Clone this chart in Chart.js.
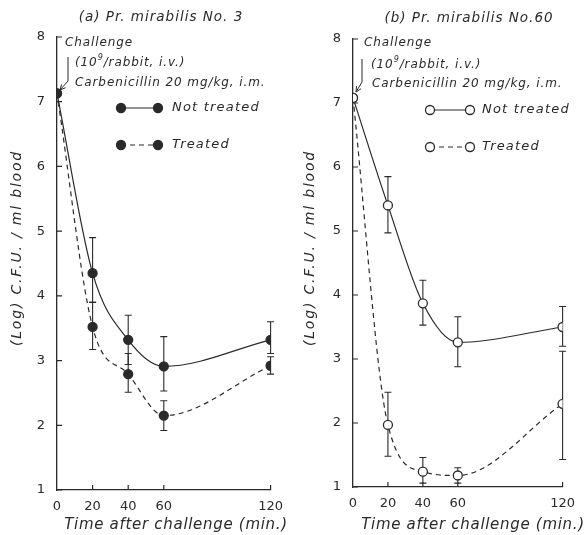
<!DOCTYPE html>
<html>
<head>
<meta charset="utf-8">
<script src="https://cdn.jsdelivr.net/npm/chart.js@4.4.1/dist/chart.umd.min.js"></script>
<style>
html, body { margin: 0; padding: 0; background: #fff; }
#wrap { position: relative; width: 584px; height: 535px; }
.panel { position: absolute; top: 0; width: 292px; height: 535px; }
</style>
</head>
<body>
<div id="wrap">
    <div class="panel" style="left:0"><canvas id="chart-a"></canvas></div>
    <div class="panel" style="left:292px"><canvas id="chart-b"></canvas></div>
</div>
<script>
const timePoints = [0, 20, 40, 60, 120];
const xTicks = [0, 20, 40, 60, 120];
const yTicks = [1, 2, 3, 4, 5, 6, 7, 8];

// (a) Pr. mirabilis No. 3
const aNotTreated     = [7.13, 4.35, 3.32, 2.91, 3.32];
const aNotTreatedLow  = [null, 3.90, 2.94, 2.53, 3.11];
const aNotTreatedHigh = [null, 4.90, 3.70, 3.37, 3.60];
const aTreated        = [7.13, 3.52, 2.79, 2.15, 2.92];
const aTreatedLow     = [null, 3.17, 2.51, 1.92, 2.79];
const aTreatedHigh    = [null, 3.90, 3.11, 2.38, 3.06];

// (b) Pr. mirabilis No. 60
const bNotTreated     = [7.08, 5.40, 3.87, 3.26, 3.50];
const bNotTreatedLow  = [null, 4.97, 3.53, 2.88, 3.20];
const bNotTreatedHigh = [null, 5.85, 4.23, 3.66, 3.82];
const bTreated        = [7.08, 1.97, 1.24, 1.18, 2.30];
const bTreatedLow     = [null, 1.48, 1.06, 1.06, 1.43];
const bTreatedHigh    = [null, 2.48, 1.46, 1.30, 3.12];

const ink = "#2a2a2a";
const textFont = "'DejaVu Sans', sans-serif";

function toXY(values) {
    return timePoints.map((t, i) => ({ x: t, y: values[i] }));
}

function drawMarker(ctx, x, y, filled) {
    ctx.beginPath();
    ctx.arc(x, y, 4.5, 0, Math.PI * 2);
    ctx.fillStyle = filled ? ink : "#fff";
    ctx.fill();
    ctx.lineWidth = 1.3;
    ctx.strokeStyle = ink;
    ctx.stroke();
}

// error bars, inward ticks, titles, annotation and legend
const paperPlugin = {
    id: "paper",
    beforeDatasetsDraw(chart, args, opts) {
        const { ctx, scales: { x, y } } = chart;
        ctx.save();
        ctx.strokeStyle = ink;
        ctx.lineWidth = 1.1;
        opts.errors.forEach(e => {
            timePoints.forEach((t, i) => {
                if (e.low[i] == null) return;
                const px = x.getPixelForValue(t);
                const y1 = y.getPixelForValue(e.low[i]);
                const y2 = y.getPixelForValue(e.high[i]);
                ctx.beginPath();
                ctx.moveTo(px, y1); ctx.lineTo(px, y2);
                ctx.moveTo(px - 3.5, y1); ctx.lineTo(px + 3.5, y1);
                ctx.moveTo(px - 3.5, y2); ctx.lineTo(px + 3.5, y2);
                ctx.stroke();
            });
        });
        ctx.restore();
    },
    afterDraw(chart, args, opts) {
        const { ctx, chartArea: area, scales: { x, y } } = chart;
        ctx.save();
        ctx.strokeStyle = ink;
        ctx.lineWidth = 1.2;
        // ticks pointing inward
        ctx.beginPath();
        yTicks.forEach(v => {
            const py = y.getPixelForValue(v);
            ctx.moveTo(area.left, py); ctx.lineTo(area.left + 5, py);
        });
        xTicks.slice(1).forEach(v => {
            const px = x.getPixelForValue(v);
            ctx.moveTo(px, area.bottom); ctx.lineTo(px, area.bottom - 5);
        });
        ctx.stroke();

        // titles
        const t = opts.titles;
        ctx.fillStyle = ink;
        ctx.textBaseline = "middle";
        ctx.textAlign = "center";
        ctx.font = "italic 13.5px " + textFont;
        ctx.letterSpacing = "1px";
        ctx.fillText(t.main, t.mainX, t.mainY);
        ctx.font = "italic 15px " + textFont;
        ctx.letterSpacing = "0.7px";
        ctx.fillText("Time after challenge (min.)", t.xTitleX, t.xTitleY);
        ctx.save();
        ctx.translate(t.yTitleX, t.yTitleY);
        ctx.rotate(-Math.PI / 2);
        ctx.font = "italic 14px " + textFont;
        ctx.letterSpacing = "1.8px";
        ctx.fillText("(Log) C.F.U. / ml blood", 0, 0);
        ctx.restore();
        ctx.textAlign = "left";

        // annotation
        const n = opts.note;
        ctx.font = "italic 12px " + textFont;
        ctx.letterSpacing = "0.9px";
        ctx.fillText("Challenge", n.x1, n.y1);
        let tx = n.x2;
        ctx.fillText("(10", tx, n.y2);
        tx += ctx.measureText("(10").width;
        ctx.font = "italic 8px " + textFont;
        ctx.fillText("9", tx, n.y2 - 5);
        tx += ctx.measureText("9").width;
        ctx.font = "italic 12px " + textFont;
        ctx.fillText("/rabbit, i.v.)", tx, n.y2);
        ctx.fillText("Carbenicillin 20 mg/kg, i.m.", n.x3, n.y3);

        ctx.lineWidth = 1;
        ctx.beginPath();
        ctx.moveTo(n.ax, n.ay0);
        ctx.lineTo(n.ax, n.ay1);
        ctx.lineTo(n.tipX, n.tipY);
        const ang = Math.atan2(n.tipY - n.ay1, n.tipX - n.ax);
        ctx.moveTo(n.tipX, n.tipY);
        ctx.lineTo(n.tipX - 6 * Math.cos(ang - 0.45), n.tipY - 6 * Math.sin(ang - 0.45));
        ctx.moveTo(n.tipX, n.tipY);
        ctx.lineTo(n.tipX - 6 * Math.cos(ang + 0.45), n.tipY - 6 * Math.sin(ang + 0.45));
        ctx.stroke();

        // legend
        const lg = opts.legend;
        ctx.font = "italic 13px " + textFont;
        ctx.letterSpacing = "1.2px";
        [["Not treated", [], lg.y1], ["Treated", [5, 4], lg.y2]].forEach(([label, dash, ly]) => {
            ctx.setLineDash(dash);
            ctx.lineWidth = 1.1;
            ctx.strokeStyle = ink;
            ctx.beginPath();
            ctx.moveTo(lg.x1, ly); ctx.lineTo(lg.x2, ly);
            ctx.stroke();
            ctx.setLineDash([]);
            drawMarker(ctx, lg.x1, ly, lg.filled);
            drawMarker(ctx, lg.x2, ly, lg.filled);
            ctx.fillStyle = ink;
            ctx.fillText(label, lg.tx, ly);
        });
        ctx.restore();
    }
};

function makePanel(canvasId, cfg) {
    const lineBase = {
        borderColor: ink,
        borderWidth: 1.2,
        cubicInterpolationMode: "monotone",
        pointRadius: 4.5,
        pointBorderWidth: 1.3,
        pointBorderColor: ink,
        pointBackgroundColor: cfg.filled ? ink : "#fff"
    };
    return new Chart(document.getElementById(canvasId), {
        type: "line",
        data: {
            datasets: [
                Object.assign({ label: "Not treated", data: toXY(cfg.notTreated) }, lineBase),
                Object.assign({ label: "Treated", data: toXY(cfg.treated), borderDash: [5, 4] }, lineBase)
            ]
        },
        plugins: [paperPlugin],
        options: {
            responsive: true,
            maintainAspectRatio: false,
            animation: false,
            layout: { padding: { left: 0, right: cfg.padRight, top: cfg.padTop, bottom: 0 } },
            plugins: {
                legend: { display: false },
                tooltip: { enabled: false },
                paper: {
                    errors: cfg.errors,
                    note: cfg.note,
                    legend: cfg.legend,
                    titles: cfg.titles
                }
            },
            scales: {
                x: {
                    type: "linear",
                    min: 0,
                    max: 120,
                    afterBuildTicks: s => { s.ticks = xTicks.map(v => ({ value: v })); },
                    afterFit: s => { s.height = cfg.bottomH; },
                    grid: { display: true, drawOnChartArea: false, drawTicks: false },
                    border: { display: true, color: ink, width: 1.3 },
                    ticks: { color: ink, font: { family: textFont, size: 13 }, padding: 9, maxRotation: 0, autoSkip: false }
                },
                y: {
                    type: "linear",
                    min: 1,
                    max: 8,
                    afterBuildTicks: s => { s.ticks = yTicks.map(v => ({ value: v })); },
                    afterFit: s => { s.width = cfg.leftW; },
                    grid: { display: true, drawOnChartArea: false, drawTicks: false },
                    border: { display: true, color: ink, width: 1.3 },
                    ticks: { color: ink, font: { family: textFont, size: 13 }, padding: 12 }
                }
            }
        }
    });
}

window.chartA = makePanel("chart-a", {
    filled: true,
    notTreated: aNotTreated,
    treated: aTreated,
    errors: [
        { low: aNotTreatedLow, high: aNotTreatedHigh },
        { low: aTreatedLow, high: aTreatedHigh }
    ],
    leftW: 57, padRight: 20, padTop: 37, bottomH: 45,
    titles: { main: "(a) Pr. mirabilis No. 3", mainX: 161, mainY: 17, xTitleX: 176, xTitleY: 525, yTitleX: 17, yTitleY: 248 },
    note: { x1: 65, y1: 43, x2: 75, y2: 63, x3: 75, y3: 83, ax: 68, ay0: 57, ay1: 81, tipX: 60, tipY: 90 },
    legend: { x1: 121, x2: 158, tx: 172, y1: 108, y2: 145, filled: true }
});

window.chartB = makePanel("chart-b", {
    filled: false,
    notTreated: bNotTreated,
    treated: bTreated,
    errors: [
        { low: bNotTreatedLow, high: bNotTreatedHigh },
        { low: bTreatedLow, high: bTreatedHigh }
    ],
    leftW: 61, padRight: 15, padTop: 39, bottomH: 48,
    titles: { main: "(b) Pr. mirabilis No.60", mainX: 177, mainY: 18, xTitleX: 181, xTitleY: 525, yTitleX: 18, yTitleY: 248 },
    note: { x1: 72, y1: 43, x2: 79, y2: 65, x3: 80, y3: 84, ax: 70, ay0: 59, ay1: 82, tipX: 64, tipY: 92 },
    legend: { x1: 138, x2: 178, tx: 190, y1: 110, y2: 147, filled: false }
});
</script>
</body>
</html>
